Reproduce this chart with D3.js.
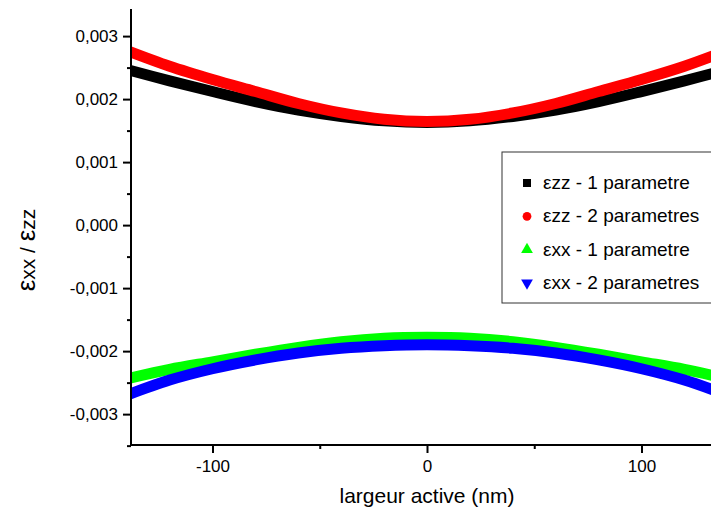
<!DOCTYPE html>
<html><head><meta charset="utf-8">
<script src="https://cdn.jsdelivr.net/npm/d3@7"></script>
<style>body{margin:0;background:#fff}svg{display:block}text{font-family:"Liberation Sans",Arial,sans-serif;fill:#000}</style>
</head><body>
<svg id="c" width="711" height="518"></svg>
<script>
const xs       = [-140,-120,-100,-80,-60,-40,-20,0,20,40,60,80,100,120,140];
const ezz1     = [2.47,2.29,2.12,1.96,1.825,1.725,1.655,1.63,1.655,1.725,1.825,1.96,2.12,2.29,2.47];
const ezz2     = [2.77,2.52,2.31,2.12,1.93,1.78,1.68,1.645,1.68,1.78,1.93,2.12,2.31,2.52,2.77];
const exx1     = [-2.44,-2.29,-2.17,-2.05,-1.94,-1.85,-1.795,-1.78,-1.795,-1.85,-1.94,-2.05,-2.17,-2.29,-2.44];
const exx2     = [-2.70,-2.46,-2.28,-2.14,-2.03,-1.955,-1.915,-1.90,-1.915,-1.955,-2.03,-2.14,-2.28,-2.46,-2.70];
const seriesNames = ["εzz - 1 parametre","εzz - 2 parametres","εxx - 1 parametre","εxx - 2 parametres"];
const seriesColors = ["#000000","#ff0000","#00ff00","#0000ff"];
const xTicks = [-100,0,100];
const yTicks = [-0.003,-0.002,-0.001,0,0.001,0.002,0.003];

const svg = d3.select("#c");
const L=131, R=723, T=9, B=445;
const x = d3.scaleLinear().domain([-138,138]).range([L,R]);
const y = d3.scaleLinear().domain([-0.00349,0.00343]).range([B,T]);

const defs = svg.append("defs");
defs.append("clipPath").attr("id","clip").append("rect").attr("x",L).attr("y",T).attr("width",R-L).attr("height",B-T);

const all = [ezz1,ezz2,exx1,exx2];
const line = d3.line().x(d=>x(d[0])).y(d=>y(d[1]*1e-3)).curve(d3.curveCatmullRom.alpha(0.5));
const g = svg.append("g").attr("clip-path","url(#clip)");
all.forEach((s,i)=>{
  g.append("path").datum(xs.map((v,j)=>[v,s[j]]))
   .attr("d",line).attr("fill","none").attr("stroke",seriesColors[i]).attr("stroke-width",11);
});

// axes
const fmt = d=> d3.format(".3f")(d).replace(".",",").replace("−","-");
const ya = d3.axisLeft(y).tickValues(yTicks).tickSize(8).tickPadding(5).tickFormat(fmt);
const yg = svg.append("g").attr("transform",`translate(${L},0)`).call(ya);
const yMinor = d3.axisLeft(y).tickValues([-0.0035,-0.0025,-0.0015,-0.0005,0.0005,0.0015,0.0025]).tickSize(4).tickFormat("");
svg.append("g").attr("transform",`translate(${L},0)`).call(yMinor).select(".domain").remove();
const xa = d3.axisBottom(x).tickValues(xTicks).tickSize(8).tickPadding(7).tickFormat(d=>String(d).replace("−","-"));
const xg = svg.append("g").attr("transform",`translate(0,${B})`).call(xa);
const xMinor = d3.axisBottom(x).tickValues([-50,50]).tickSize(4).tickFormat("");
svg.append("g").attr("transform",`translate(0,${B})`).call(xMinor).select(".domain").remove();
yg.select(".domain").remove();
xg.select(".domain").remove();
svg.append("line").attr("x1",L).attr("x2",L).attr("y1",T).attr("y2",B+1).attr("stroke","#000").attr("stroke-width",2);
svg.append("line").attr("x1",L-1).attr("x2",711).attr("y1",B).attr("y2",B).attr("stroke","#000").attr("stroke-width",2);
svg.selectAll(".tick line").attr("stroke","#000").attr("stroke-width",2);
svg.selectAll(".tick text").style("font-size","17px").style("font-family","'Liberation Sans',Arial,sans-serif");

// titles
svg.append("text").attr("x",427).attr("y",503).attr("text-anchor","middle").style("font-size","21px").text("largeur active (nm)");
const yt = svg.append("text").attr("transform","translate(35,250) rotate(-90)").attr("text-anchor","middle").style("font-size","21px");
yt.append("tspan").style("font-size","26px").text("ε");
yt.append("tspan").text("xx / ");
yt.append("tspan").style("font-size","26px").text("ε");
yt.append("tspan").text("zz");

// legend
const lg = svg.append("g");
lg.append("rect").attr("x",502).attr("y",152).attr("width",220).attr("height",151).attr("fill","#fff").attr("stroke","#333").attr("stroke-width",1);
const sym = [d3.symbolSquare,d3.symbolCircle,d3.symbolTriangle,d3.symbolTriangle];
seriesNames.forEach((n,i)=>{
  const cy = 183 + i*33.3;
  lg.append("path").attr("d",d3.symbol(sym[i],i==0?64:60)()).attr("fill",seriesColors[i])
    .attr("transform",`translate(527,${cy})${i==3?" rotate(180)":""}`);
  lg.append("text").attr("x",543).attr("y",cy+6).style("font-size","19px").text(n);
});
</script>
</body></html>
